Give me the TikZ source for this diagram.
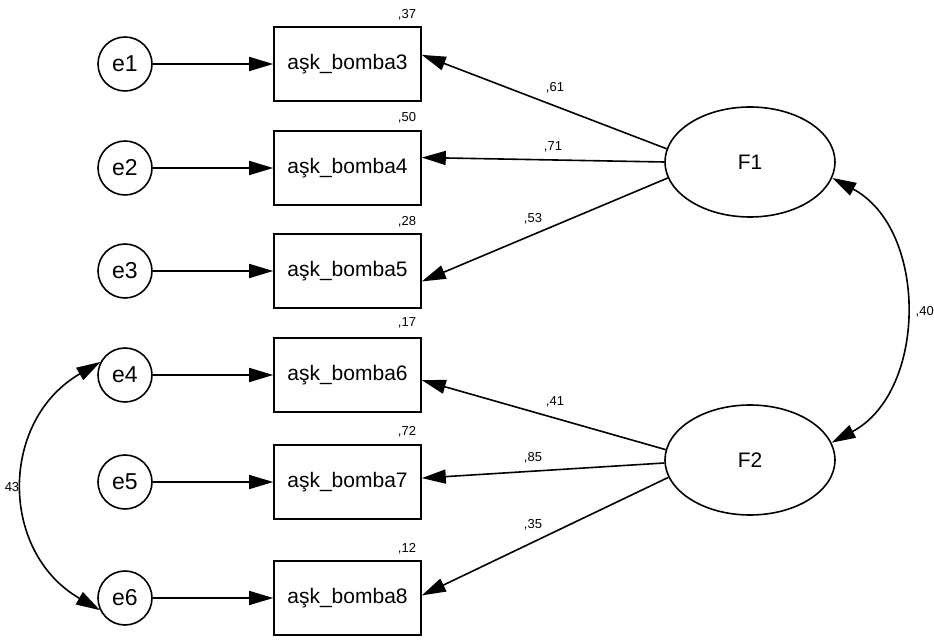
\documentclass[tikz,border=0pt]{standalone}
\usepackage{fontspec}
\setmainfont{Liberation Sans}
\usetikzlibrary{
  arrows.meta,
  shapes.geometric
}
\tikzset{
  errnode/.style={
    draw, circle, line width=1.6pt, minimum size=54pt, inner sep=0pt,
    font=\fontsize{23}{25}\selectfont
  },
  obsnode/.style={
    draw, rectangle, line width=1.6pt, minimum width=147pt, minimum height=74pt,
    inner sep=0pt, font=\fontsize{21}{24}\selectfont
  },
  latnode/.style={
    draw, ellipse, line width=1.6pt, minimum width=170pt, minimum height=110pt,
    inner sep=0pt, font=\fontsize{21}{24}\selectfont
  },
  loading/.style={-{Triangle[length=24pt, width=14pt]}, line width=1.6pt},
  covar/.style={{Triangle[length=24pt, width=14pt]}-{Triangle[length=24pt, width=14pt]}, line width=1.6pt},
  coef/.style={font=\fontsize{13}{15}\selectfont, inner sep=0pt}
}

\begin{document}
\begin{tikzpicture}[x=1pt, y=1pt]
  \useasboundingbox (0,0) rectangle (934,640);
  % error terms
  \node[errnode] (e1) at (125,576) {e1};
  \node[errnode] (e2) at (125,472) {e2};
  \node[errnode] (e3) at (125,369) {e3};
  \node[errnode] (e4) at (125,265) {e4};
  \node[errnode] (e5) at (125,158) {e5};
  \node[errnode] (e6) at (125,42) {e6};
  % observed items
  \node[obsnode] (b3) at (347.5,576) {aşk\_bomba3};
  \node[obsnode] (b4) at (347.5,472) {aşk\_bomba4};
  \node[obsnode] (b5) at (347.5,369) {aşk\_bomba5};
  \node[obsnode] (b6) at (347.5,265) {aşk\_bomba6};
  \node[obsnode] (b7) at (347.5,158) {aşk\_bomba7};
  \node[obsnode] (b8) at (347.5,42) {aşk\_bomba8};
  % latent factors
  \node[latnode] (F1) at (750,478) {F1};
  \node[latnode] (F2) at (750,180) {F2};
  % squared multiple correlations
  \node[coef] (r3) at (407,625) {,37};
  \node[coef] (r4) at (407,522) {,50};
  \node[coef] (r5) at (407,418) {,28};
  \node[coef] (r6) at (407,317) {,17};
  \node[coef] (r7) at (407,208) {,72};
  \node[coef] (r8) at (407,91) {,12};
  % error paths
  \draw[loading] (e1) -- (b3);
  \draw[loading] (e2) -- (b4);
  \draw[loading] (e3) -- (b5);
  \draw[loading] (e4) -- (b6);
  \draw[loading] (e5) -- (b7);
  \draw[loading] (e6) -- (b8);
  % factor loadings
  \draw[loading] (F1.171) -- (b3.7);
  \draw[loading] (F1.180) -- (b4.8);
  \draw[loading] (F1.191) -- (b5.-8);
  \draw[loading] (F2.173) -- (b6.-4);
  \draw[loading] (F2.182) -- (b7.3);
  \draw[loading] (F2.192) -- (b8.2);
  \node[coef] (w61) at (555,552) {,61};
  \node[coef] (w71) at (553,493) {,71};
  \node[coef] (w53) at (533,421) {,53};
  \node[coef] (w41) at (555,238) {,41};
  \node[coef] (w85) at (533,182) {,85};
  \node[coef] (w35) at (533,115) {,35};
  % covariances
  \draw[covar] (F1.-11) to[out=-28, in=28, looseness=1.05] (F2.12);
  \node[coef, anchor=east] (c40) at (934,328) {,40};
  \draw[covar] (e4.152) to[out=210, in=150, looseness=1.2] (e6.206);
  \node[coef] (c43) at (12,153) {43};
\end{tikzpicture}
\end{document}
